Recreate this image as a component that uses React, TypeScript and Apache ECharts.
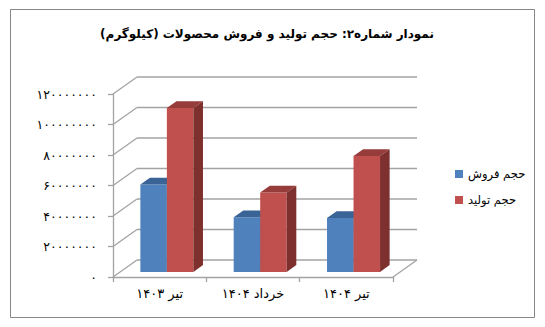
import React, { useEffect, useRef } from "react";
import * as echarts from "echarts";

const titleText = "\u200Fنمودار شماره۲: حجم تولید و فروش محصولات (کیلوگرم)\u200F";
const categories = ["تیر ۱۴۰۳", "خرداد ۱۴۰۴", "تیر ۱۴۰۴"];
const seriesNames = ["حجم فروش", "حجم تولید"];
const salesValues = [57300000, 35800000, 35300000];
const productionValues = [107400000, 52100000, 76000000];
const yTicks = [0, 20000000, 40000000, 60000000, 80000000, 100000000, 120000000];

const DX = 24;
const DY = -17;
const F0 = 0.3;
const F1 = 0.7;
const FONT = "'DejaVu Sans', sans-serif";
const GRID_COLOR = "#a3a3a3";

const toFa = (s: string) => s.replace(/\d/g, (d) => "۰۱۲۳۴۵۶۷۸۹"[Number(d)]);

function barRenderer(shift: number, front: string, top: string, side: string) {
  return (params: any, api: any) => {
    const i = api.value(0);
    const base = api.coord([i, 0]);
    const tp = api.coord([i, api.value(1)]);
    const band = api.size([1, 0])[0];
    const w = band * 0.284;
    const ox = F0 * DX;
    const oy = F0 * DY;
    const ddx = (F1 - F0) * DX;
    const ddy = (F1 - F0) * DY;
    const x0 = base[0] + shift * w + ox;
    const x1 = x0 + w;
    const yb = base[1] + oy;
    const yt = tp[1] + oy;
    return {
      type: "group",
      children: [
        {
          type: "polygon",
          shape: { points: [[x0, yt], [x1, yt], [x1, yb], [x0, yb]] },
          style: { fill: front },
        },
        {
          type: "polygon",
          shape: { points: [[x0, yt], [x1, yt], [x1 + ddx, yt + ddy], [x0 + ddx, yt + ddy]] },
          style: { fill: top },
        },
        {
          type: "polygon",
          shape: { points: [[x1, yt], [x1 + ddx, yt + ddy], [x1 + ddx, yb + ddy], [x1, yb]] },
          style: { fill: side },
        },
      ],
    };
  };
}

export default function App() {
  const ref = useRef<HTMLDivElement>(null);
  useEffect(() => {
    if (!ref.current) return;
    const chart = echarts.init(ref.current, undefined, { renderer: "svg" });
    const frameRender = (params: any, api: any) => {
      const cs = params.coordSys;
      const v = api.value(1);
      const y = api.coord([0, v])[1];
      const xl = cs.x;
      const xr = cs.x + cs.width;
      const st = { stroke: GRID_COLOR, lineWidth: 1.3, fill: "none" };
      const children: any[] = [
        { type: "line", shape: { x1: xl, y1: y, x2: xl + DX, y2: y + DY }, style: st },
        { type: "line", shape: { x1: xl + DX, y1: y + DY, x2: xr + DX, y2: y + DY }, style: st },
      ];
      if (v === 0) {
        children.push({ type: "line", shape: { x1: xr, y1: y, x2: xr + DX, y2: y + DY }, style: st });
      }
      return { type: "group", children };
    };
    chart.setOption({
      animation: false,
      backgroundColor: "#ffffff",
      textStyle: { fontFamily: FONT },
      title: {
        text: titleText,
        left: 262,
        top: 23,
        textAlign: "center",
        textStyle: { fontFamily: FONT, fontSize: 12, fontWeight: "bold", color: "#000" },
      },
      graphic: [
        {
          type: "rect",
          shape: { x: 10.5, y: 9.5, width: 524, height: 308 },
          style: { fill: "none", stroke: "#878787", lineWidth: 1 },
          silent: true,
        },
      ],
      legend: {
        orient: "vertical",
        left: 450,
        top: 163,
        itemWidth: 8,
        itemHeight: 8,
        itemGap: 14,
        icon: "rect",
        data: seriesNames,
        textStyle: { fontFamily: FONT, fontSize: 11.5, color: "#000" },
      },
      grid: { left: 113, top: 94, width: 280, height: 183, containLabel: false },
      xAxis: {
        type: "category",
        data: categories,
        boundaryGap: true,
        axisLine: { show: true, lineStyle: { color: GRID_COLOR, width: 1.3 } },
        axisTick: { show: true, length: 5, lineStyle: { color: GRID_COLOR, width: 1.3 } },
        axisLabel: { fontFamily: FONT, fontSize: 13, color: "#000", margin: 10 },
        splitLine: { show: false },
      },
      yAxis: {
        type: "value",
        min: 0,
        max: 120000000,
        interval: 20000000,
        axisLine: { show: true, lineStyle: { color: GRID_COLOR, width: 1.3 } },
        axisTick: { show: true, length: 5, lineStyle: { color: GRID_COLOR, width: 1.3 } },
        axisLabel: {
          fontFamily: FONT,
          fontSize: 12.5,
          color: "#000",
          margin: 16,
          formatter: (v: number) => toFa(String(v)),
        },
        splitLine: { show: false },
      },
      series: [
        {
          type: "custom",
          name: "frame",
          silent: true,
          renderItem: frameRender,
          encode: { x: 0, y: 1 },
          data: yTicks.map((v) => [0, v]),
          z: 1,
        },
        {
          type: "custom",
          name: seriesNames[0],
          itemStyle: { color: "#4F81BD" },
          renderItem: barRenderer(-1, "#4F81BD", "#3A6396", "#385D8A"),
          encode: { x: 0, y: 1 },
          data: salesValues.map((v, i) => [i, v]),
          z: 3,
        },
        {
          type: "custom",
          name: seriesNames[1],
          itemStyle: { color: "#C0504D" },
          renderItem: barRenderer(0, "#C0504D", "#963C3A", "#7E302E"),
          encode: { x: 0, y: 1 },
          data: productionValues.map((v, i) => [i, v]),
          z: 4,
        },
      ],
    });
    return () => chart.dispose();
  }, []);
  return (
    <div
      ref={ref}
      style={{ position: "absolute", left: 0, top: 0, width: 545, height: 327, background: "#fff" }}
    />
  );
}
